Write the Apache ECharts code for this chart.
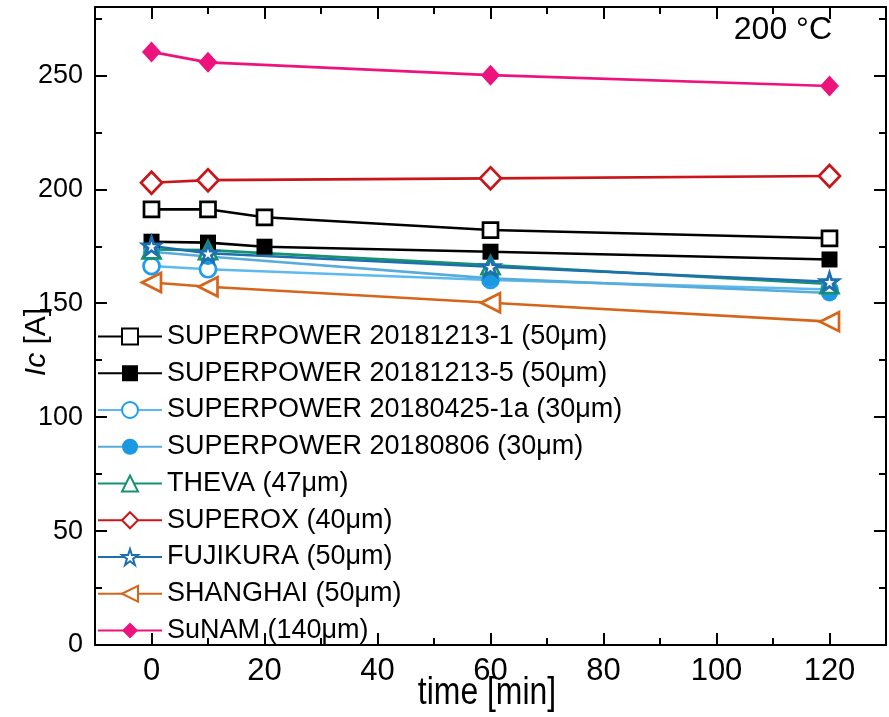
<!DOCTYPE html>
<html>
<head>
<meta charset="utf-8">
<title>Ic vs time at 200 °C</title>
<script src="https://cdn.jsdelivr.net/npm/echarts@6/dist/echarts.min.js"></script>
<style>
  html, body { margin: 0; padding: 0; background: #ffffff; }
  #chart { width: 889px; height: 717px; }
</style>
</head>
<body>
<div id="chart"></div>
<script>
// Measurement times (minutes)
const timesLong = [0, 10, 20, 60, 120];
const timesShort = [0, 10, 60, 120];

// Critical current Ic [A] per tape
const sp20181213_1 = [191.2, 191.2, 187.7, 182.1, 178.5];
const sp20181213_5 = [177.0, 176.6, 174.8, 172.6, 169.2];
const sp20180425_1a = [166.3, 164.9, 160.2, 156.0];
const sp20180806 = [172.6, 170.5, 160.9, 154.5];
const theva = [173.6, 173.3, 166.7, 158.4];
const superox = [202.9, 204.0, 204.8, 205.8];
const fujikura = [175.1, 171.9, 166.0, 159.4];
const shanghai = [159.1, 157.2, 150.2, 141.9];
const sunam = [260.3, 255.7, 250.1, 245.3];

const names = [
  'SUPERPOWER 20181213-1 (50\u03bcm)',
  'SUPERPOWER 20181213-5 (50\u03bcm)',
  'SUPERPOWER 20180425-1a (30\u03bcm)',
  'SUPERPOWER 20180806 (30\u03bcm)',
  'THEVA (47\u03bcm)',
  'SUPEROX (40\u03bcm)',
  'FUJIKURA (50\u03bcm)',
  'SHANGHAI (50\u03bcm)',
  'SuNAM (140\u03bcm)'
];

// Axis ticks
const xMajorTicks = [0, 20, 40, 60, 80, 100, 120];
const xMinorTicks = [-10, 10, 30, 50, 70, 90, 110, 130];
const yMajorTicks = [0, 50, 100, 150, 200, 250];
const yMinorTicks = [25, 75, 125, 175, 225, 275];

const pairs = (xs, ys) => xs.map((x, i) => [x, ys[i]]);

const STAR = 'path://M50,2 L61.2,36.2 L97.5,36.2 L68.2,57.5 L79.4,92 L50,70.8 L20.6,92 L31.8,57.5 L2.5,36.2 L38.8,36.2 Z';
const FONT = '"Liberation Sans", Arial, sans-serif';

function makeSeries(name, xs, ys, opts) {
  const hollow = opts.hollow;
  return {
    name: name,
    type: 'line',
    data: pairs(xs, ys),
    symbol: opts.symbol,
    symbolSize: opts.size,
    symbolRotate: opts.rotate || 0,
    showAllSymbol: true,
    lineStyle: { color: opts.line || opts.color, width: 2.6 },
    itemStyle: hollow
      ? { color: '#ffffff', borderColor: opts.color, borderWidth: 2.7 }
      : { color: opts.color, borderColor: opts.color, borderWidth: 0 },
    emphasis: { disabled: true },
    animation: false
  };
}

const series = [
  makeSeries(names[0], timesLong, sp20181213_1, { symbol: 'rect', size: 15, color: '#000000', hollow: true }),
  makeSeries(names[1], timesLong, sp20181213_5, { symbol: 'rect', size: 16, color: '#000000' }),
  makeSeries(names[2], timesShort, sp20180425_1a, { symbol: 'circle', size: 16, color: '#1c9ef0', line: '#5db9ef', hollow: true }),
  makeSeries(names[3], timesShort, sp20180806, { symbol: 'circle', size: 17, color: '#1b98e2', line: '#58acdc' }),
  makeSeries(names[4], timesShort, theva, { symbol: 'triangle', size: 18, color: '#16936c', hollow: true }),
  makeSeries(names[5], timesShort, superox, { symbol: 'diamond', size: [21, 22], color: '#c8161a', hollow: true }),
  makeSeries(names[6], timesShort, fujikura, { symbol: STAR, size: 18, color: '#1d6fb2', hollow: true }),
  makeSeries(names[7], timesShort, shanghai, { symbol: 'triangle', size: 19, rotate: 90, color: '#d6651a', hollow: true }),
  makeSeries(names[8], timesShort, sunam, { symbol: 'diamond', size: [19, 21], color: '#ee137c' })
];

const frame = { show: true, onZero: false, lineStyle: { color: '#000000', width: 2 } };
const noLine = { show: false, onZero: false };
const tickStyle = { color: '#000000', width: 2 };
const xRange = { type: 'value', min: -10, max: 130, splitLine: { show: false } };
const yRange = { type: 'value', min: 0, max: 280, splitLine: { show: false } };

const chart = echarts.init(document.getElementById('chart'), null, { renderer: 'canvas' });
chart.setOption({
  backgroundColor: '#ffffff',
  animation: false,
  grid: { left: 95, right: 3, top: 7, bottom: 72, containLabel: false, outerBoundsMode: 'none' },
  xAxis: [
    Object.assign({}, xRange, {
      position: 'bottom',
      axisLine: frame,
      axisTick: { inside: true, length: 12, lineStyle: tickStyle, customValues: xMajorTicks },
      axisLabel: {
        customValues: xMajorTicks, margin: 11, color: '#000000',
        fontFamily: FONT, fontSize: 31
      }
    }),
    Object.assign({}, xRange, {
      position: 'bottom', axisLine: noLine,
      axisTick: { inside: true, length: 7, lineStyle: tickStyle, customValues: xMinorTicks },
      axisLabel: { show: false }
    }),
    Object.assign({}, xRange, {
      position: 'top', axisLine: frame,
      axisTick: { inside: true, length: 12, lineStyle: tickStyle, customValues: xMajorTicks },
      axisLabel: { show: false }
    }),
    Object.assign({}, xRange, {
      position: 'top', axisLine: noLine,
      axisTick: { inside: true, length: 7, lineStyle: tickStyle, customValues: xMinorTicks },
      axisLabel: { show: false }
    })
  ],
  yAxis: [
    Object.assign({}, yRange, {
      position: 'left',
      axisLine: frame,
      axisTick: { inside: true, length: 12, lineStyle: tickStyle, customValues: yMajorTicks },
      axisLabel: {
        customValues: yMajorTicks, margin: 12, color: '#000000',
        fontFamily: FONT, fontSize: 27
      }
    }),
    Object.assign({}, yRange, {
      position: 'left', axisLine: noLine,
      axisTick: { inside: true, length: 7, lineStyle: tickStyle, customValues: yMinorTicks },
      axisLabel: { show: false }
    }),
    Object.assign({}, yRange, {
      position: 'right', axisLine: frame,
      axisTick: { inside: true, length: 12, lineStyle: tickStyle, customValues: yMajorTicks },
      axisLabel: { show: false }
    }),
    Object.assign({}, yRange, {
      position: 'right', axisLine: noLine,
      axisTick: { inside: true, length: 7, lineStyle: tickStyle, customValues: yMinorTicks },
      axisLabel: { show: false }
    })
  ],
  legend: {
    data: names,
    orient: 'vertical',
    left: 97,
    top: 323,
    padding: 0,
    itemWidth: 64,
    itemHeight: 20,
    itemGap: 9.75,
    selectedMode: false,
    textStyle: { color: '#000000', fontSize: 27, lineHeight: 26, fontFamily: FONT }
  },
  graphic: [
    {
      // temperature annotation
      type: 'text',
      right: 57,
      top: 14,
      style: { text: '200 \u00b0C', fill: '#000000', font: '32px ' + FONT }
    },
    {
      // x-axis title, condensed
      type: 'text',
      x: 487,
      y: 694,
      scaleX: 0.84,
      style: {
        text: 'time [min]',
        fill: '#000000',
        align: 'center',
        verticalAlign: 'middle',
        font: '38px ' + FONT
      }
    },
    {
      // y-axis title, italic symbol Ic
      type: 'text',
      x: 37,
      y: 342,
      rotation: Math.PI / 2,
      style: {
        text: '{it|Ic} [A]',
        fill: '#000000',
        align: 'center',
        verticalAlign: 'middle',
        font: '30px ' + FONT,
        rich: {
          it: { fontStyle: 'italic', fontSize: 30, fontFamily: FONT, fill: '#000000' }
        }
      }
    }
  ],
  series: series
});
</script>
</body>
</html>
